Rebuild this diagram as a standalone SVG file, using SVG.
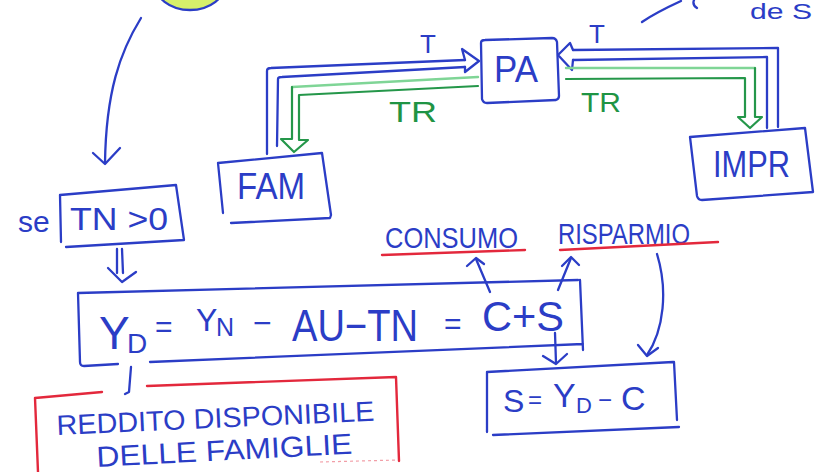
<svg xmlns="http://www.w3.org/2000/svg" width="819" height="472" viewBox="0 0 819 472">
  <style>
    .ink { fill: none; stroke: #2b3dc6; stroke-width: 2.3; stroke-linecap: round; stroke-linejoin: round; }
    .grn { fill: none; stroke: #25974a; stroke-width: 2.2; stroke-linecap: round; stroke-linejoin: round; }
    .grl { fill: none; stroke: #7fd596; stroke-width: 2.4; stroke-linecap: round; }
    .red { fill: none; stroke: #e3283c; stroke-width: 2.4; stroke-linecap: round; stroke-linejoin: round; }
    .t { font-family: "Liberation Sans", Arial, sans-serif; fill: #2b3dc6; }
    .tg { font-family: "Liberation Sans", Arial, sans-serif; fill: #1f9444; }
  </style>
  <rect width="819" height="472" fill="#ffffff"/>

  <!-- top bubble (partly outside the sheet) -->
  <g id="bubble">
    <ellipse cx="190" cy="-18" rx="36" ry="28" fill="#d6ef6a" stroke="#2b3dc6" stroke-width="2.3"/>
  </g>

  <!-- fragment of a note at the top right -->
  <g id="note-top-right">
    <path class="ink" d="M642,22 C655,13 668,7 681,1"/>
    <path class="ink" d="M694,0 Q692,5 697,8"/>
    <text class="t" x="750" y="19" font-size="22" textLength="62" lengthAdjust="spacingAndGlyphs">de S</text>
  </g>

  <!-- nodes -->
  <g id="fam">
    <path class="ink" d="M218,163 L322,153 L331,215 L330,218 L231,223 M218,163 L223,213"/>
    <text class="t" x="237" y="199" font-size="36" textLength="68" lengthAdjust="spacingAndGlyphs">FAM</text>
  </g>

  <g id="pa">
    <path class="ink" d="M481,43 Q481,40 485,40 L552,38 Q556,38 557,42 L559,96 Q559,99 556,100 L487,103 Q483,103 482,99 Z"/>
    <text class="t" x="494" y="82" font-size="36" textLength="44" lengthAdjust="spacingAndGlyphs">PA</text>
  </g>

  <g id="impr">
    <path class="ink" d="M690,137 L805,128 L813,192 L702,200 Q698,200 697,196 Z"/>
    <text class="t" x="713" y="177" font-size="36" textLength="77" lengthAdjust="spacingAndGlyphs">IMPR</text>
  </g>

  <g id="tn">
    <text class="t" x="18" y="232" font-size="30">se</text>
    <path class="ink" d="M60,195 L176,185 L184,240 L66,247 M60,195 L61,242"/>
    <text class="t" x="70" y="230" font-size="32" textLength="98" lengthAdjust="spacingAndGlyphs">TN &gt;0</text>
  </g>

  <g id="formula">
    <path class="ink" d="M78,293 L578,280 M580,280 L583,350 M78,293 L80,362 Q80,366 84,366 L118,364 M150,362 L583,344"/>
    <text class="t" font-size="46">
      <tspan x="99" y="349">Y</tspan>
      <tspan x="127" y="353" font-size="28">D</tspan>
      <tspan x="155" y="337" font-size="30">=</tspan>
      <tspan x="196" y="331" font-size="32">Y</tspan>
      <tspan x="216" y="336" font-size="25">N</tspan>
      <tspan x="253" y="334" font-size="32">−</tspan>
    </text>
    <text class="t" x="292" y="341" font-size="44" textLength="126" lengthAdjust="spacingAndGlyphs">AU−TN</text>
    <text class="t" x="444" y="334" font-size="30">=</text>
    <text class="t" x="482" y="331" font-size="42" textLength="82" lengthAdjust="spacingAndGlyphs">C+S</text>
  </g>

  <g id="consumo">
    <text class="t" x="385" y="248" font-size="30" textLength="133" lengthAdjust="spacingAndGlyphs">CONSUMO</text>
    <path class="red" d="M382,255 L525,250"/>
  </g>

  <g id="risparmio">
    <text class="t" x="558" y="244" font-size="30" textLength="132" lengthAdjust="spacingAndGlyphs">RISPARMIO</text>
    <path class="red" d="M560,250 L718,242"/>
  </g>

  <g id="saving">
    <path class="ink" d="M487,372 L673,362 M674,362 L677,420 M493,435 L679,427 M487,372 L487,432"/>
    <text class="t" font-size="34">
      <tspan x="503" y="412" font-size="32">S</tspan>
      <tspan x="528" y="408" font-size="24">=</tspan>
      <tspan x="553" y="407">Y</tspan>
      <tspan x="576" y="413" font-size="22">D</tspan>
      <tspan x="598" y="408" font-size="24">−</tspan>
      <tspan x="621" y="410">C</tspan>
    </text>
  </g>

  <g id="reddito">
    <path class="red" d="M35,398 L102,392 M147,386 L396,377 M396,377 L399,461 M35,398 L38,472"/>
    <path d="M320,462 L398,460" fill="none" stroke="#e3283c" stroke-width="1.2" stroke-dasharray="3 3" opacity="0.45"/>
    <text class="t" x="57" y="435" font-size="28" textLength="318" lengthAdjust="spacingAndGlyphs" transform="rotate(-2.6 57 435)">REDDITO DISPONIBILE</text>
    <text class="t" x="97" y="467" font-size="29" textLength="256" lengthAdjust="spacingAndGlyphs" transform="rotate(-3 97 467)">DELLE FAMIGLIE</text>
  </g>

  <!-- connectors -->
  <g id="connectors">
    <!-- bubble to TN box -->
    <path class="ink" d="M141,18 C120,52 106,92 105,163"/>
    <path class="ink" d="M93,153 L105,164 L120,148"/>

    <!-- TN box to formula (double arrow) -->
    <path class="ink" d="M117,249 L117,273 M122,249 L123,273"/>
    <path class="ink" d="M108,268 L122,282 L136,272"/>

    <!-- FAM to PA : T -->
    <path class="ink" d="M267,154 L267,71 Q267,68 271,68 L465,60"/>
    <path class="ink" d="M277,146 L278,79 Q278,77 282,77 L465,67"/>
    <path class="ink" d="M465,60 L462,49 L479,61 L465,72 L465,67"/>
    <text class="t" x="420" y="53" font-size="26">T</text>

    <!-- PA to FAM : TR -->
    <path class="grl" d="M478,77 L292,87"/>
    <path class="grn" d="M292,87 L292,139 L281,139 L294,152 L308,140 L299,140 L299,95 L478,86"/>
    <text class="tg" x="389" y="122" font-size="29" textLength="48" lengthAdjust="spacingAndGlyphs">TR</text>

    <!-- IMPR to PA : T -->
    <path class="ink" d="M778,127 L778,48 L573,50"/>
    <path class="ink" d="M767,128 L767,57 L573,60"/>
    <path class="ink" d="M573,50 L570,43 L558,55 L572,70 L573,60"/>
    <text class="t" x="589" y="43" font-size="26">T</text>

    <!-- PA to IMPR : TR -->
    <path class="grl" d="M566,68 L755,68"/>
    <path class="grn" d="M755,68 L755,117 L762,117 L750,128 L738,117 L745,117 L745,78 L566,79"/>
    <text class="tg" x="581" y="112" font-size="27" textLength="40" lengthAdjust="spacingAndGlyphs">TR</text>

    <!-- C to CONSUMO -->
    <path class="ink" d="M490,292 L476,259"/>
    <path class="ink" d="M467,266 L476,258 L484,264"/>

    <!-- S to RISPARMIO -->
    <path class="ink" d="M558,290 L571,258"/>
    <path class="ink" d="M562,266 L571,257 L579,265"/>

    <!-- S to saving box -->
    <path class="ink" d="M555,333 L556,363"/>
    <path class="ink" d="M543,356 L556,364 L567,354"/>

    <!-- RISPARMIO to saving box -->
    <path class="ink" d="M657,254 C668,290 664,330 647,355"/>
    <path class="ink" d="M638,345 L647,356 L658,348"/>

    <!-- formula to REDDITO label -->
    <path class="ink" d="M131,367 L129,392 L125,394"/>
  </g>
</svg>
